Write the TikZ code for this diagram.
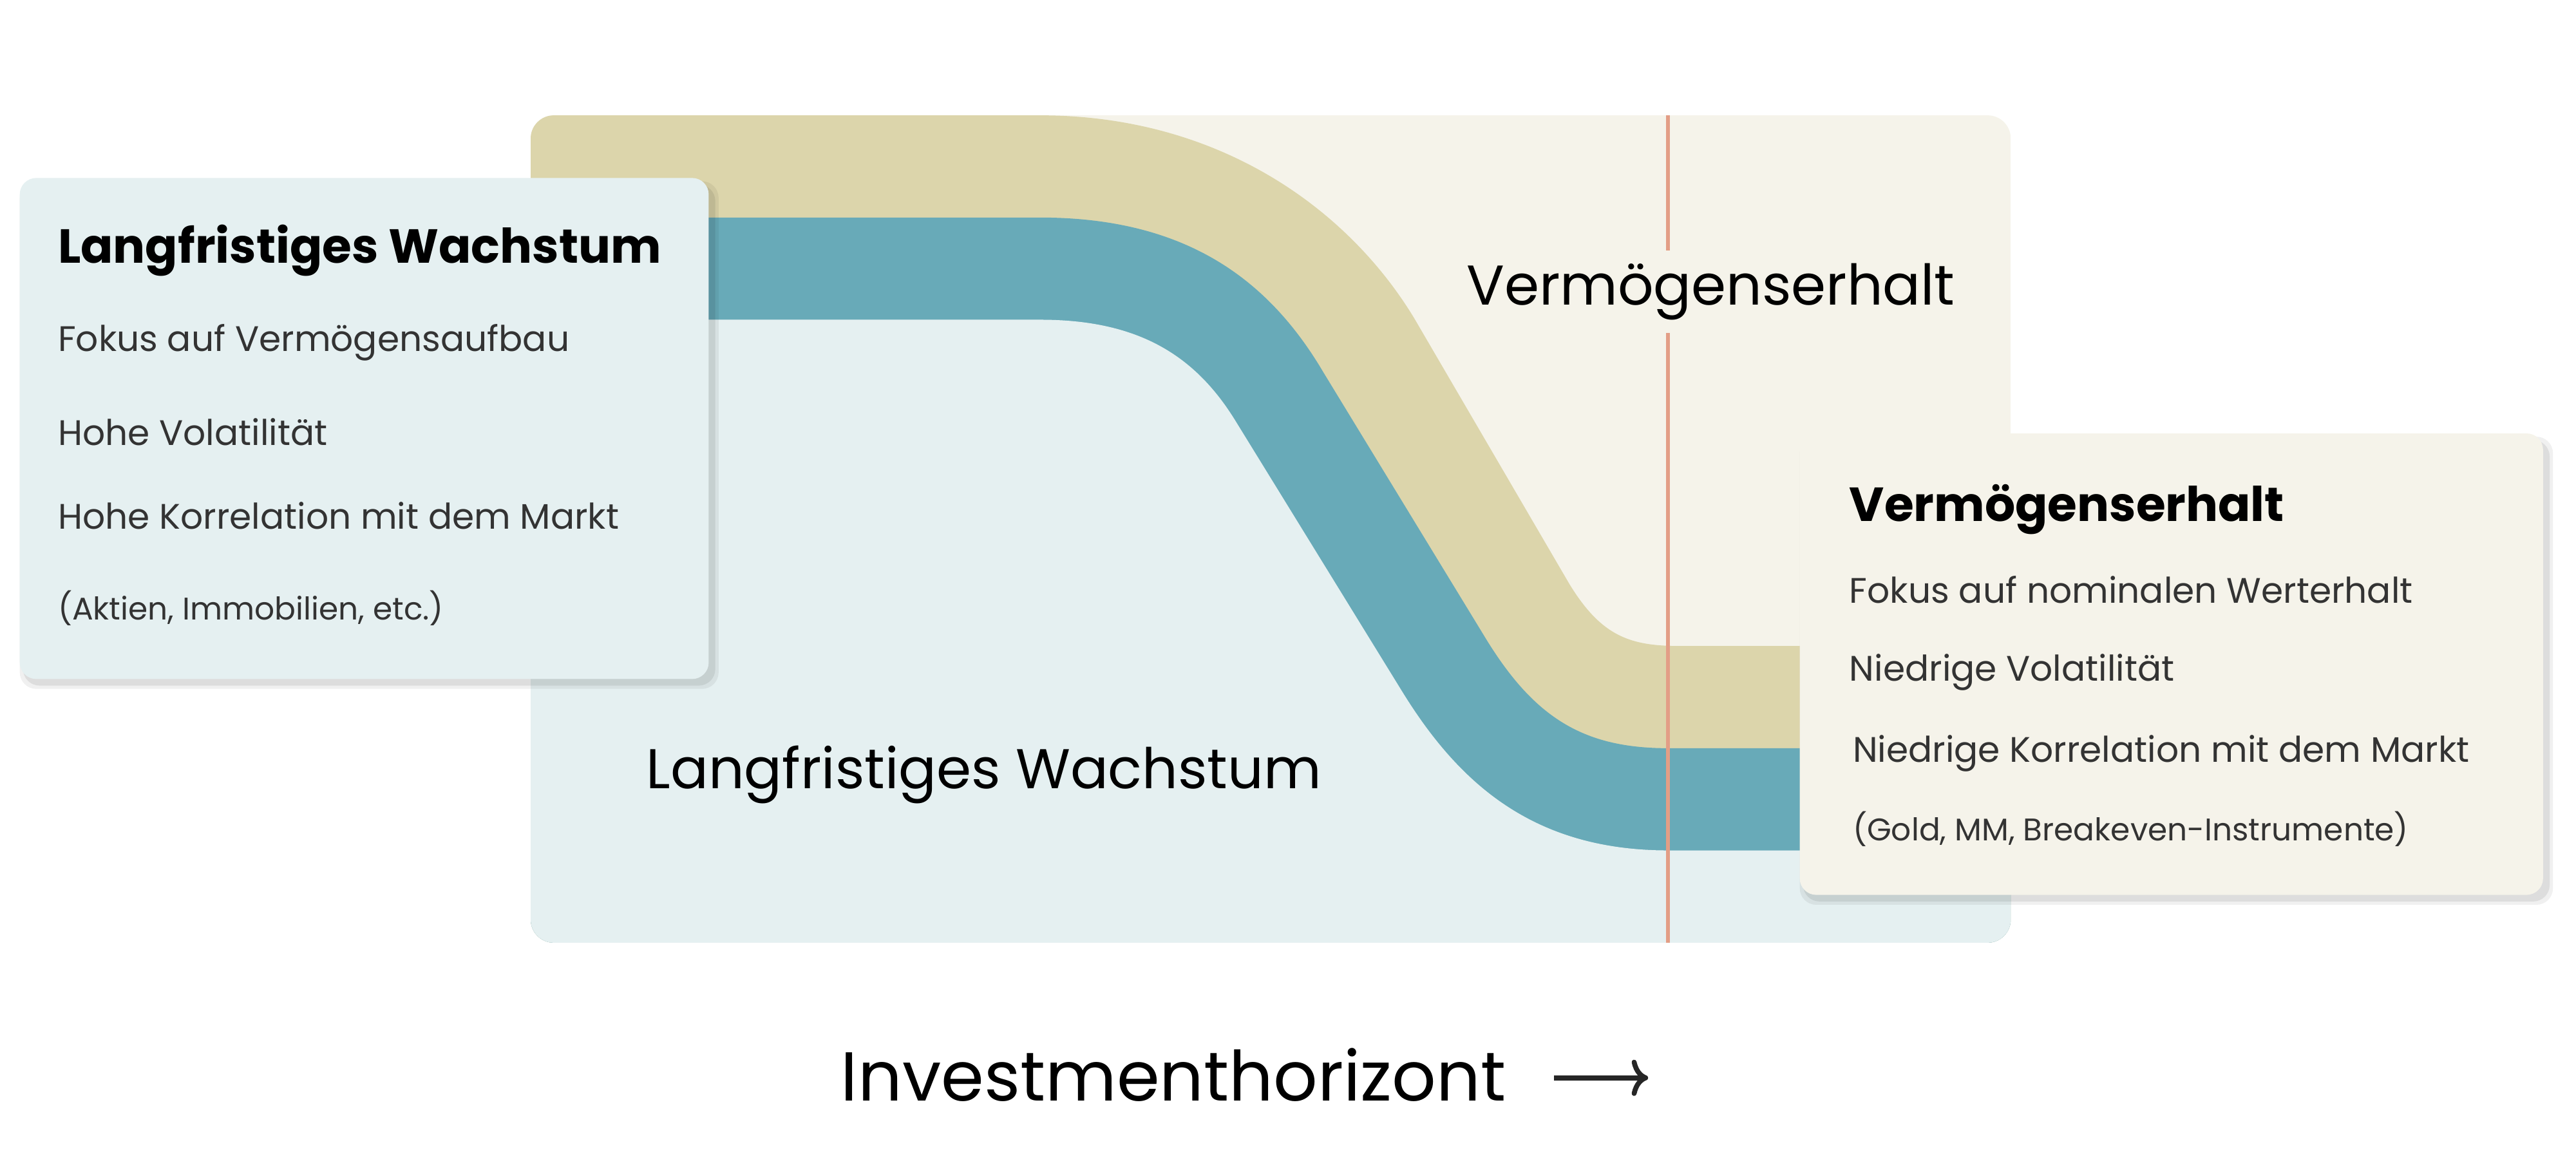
\documentclass[tikz,border=0pt]{standalone}
\usepackage{fontspec}
\setmainfont{Poppins}
\usetikzlibrary{arrows.meta}
\definecolor{cream}{HTML}{F5F3EA}
\definecolor{khaki}{HTML}{DCD5AB}
\definecolor{tealc}{HTML}{68AAB8}
\definecolor{lblue}{HTML}{E5F0F1}
\definecolor{orangel}{HTML}{E39E86}
\definecolor{txt}{HTML}{333333}
\tikzset{
  ttl/.style={anchor=west,inner sep=0pt,font=\fontsize{29}{34}\selectfont\bfseries,text=black},
  bodyt/.style={anchor=west,inner sep=0pt,font=\fontsize{21.5}{26}\selectfont,text=txt},
  smallt/.style={anchor=west,inner sep=0pt,font=\fontsize{19}{23}\selectfont,text=txt},
  bigt/.style={inner sep=0pt,font=\fontsize{34}{40}\selectfont,text=black},
  card/.style={rounded corners=10pt},
}
\begin{document}
\begin{tikzpicture}[x=1pt,y=-1pt]
\useasboundingbox[fill=white] (0,0) rectangle (1563,700);
\begin{scope}
\clip[rounded corners=14pt] (322,70) rectangle (1220,572);
\fill[cream] (322,70) rectangle (1220,572);
\fill[khaki] (322,70) -- (631,70) .. controls (740,70) and (818,127) .. (858,193) -- (952,354) .. controls (972,387) and (990,392) .. (1020,392) -- (1230,392) -- (1230,580) -- (322,580) -- cycle;
\fill[tealc] (322,132) -- (631,132) .. controls (720,132) and (770,170) .. (803,226) -- (900,385) .. controls (930,435) and (960,454) .. (1012,454) -- (1230,454) -- (1230,580) -- (322,580) -- cycle;
\fill[lblue] (322,194) -- (631,194) .. controls (690,194) and (725,215) .. (750,256) -- (851,420) .. controls (885,475) and (930,516) .. (1012,516) -- (1230,516) -- (1230,580) -- (322,580) -- cycle;
\end{scope}
\coordinate (lt) at (1012,70);
\coordinate (lb) at (1012,572);
\draw[orangel,line width=2.2pt] (lt) -- (lb);
\node[bigt,fill=cream,inner ysep=8pt,inner xsep=0pt] (verm) at (1038,177) {Vermögenserhalt};
\node[bigt] (lw) at (597,470) {Langfristiges Wachstum};
% left card
\fill[black,opacity=0.08,card] (14,112) rectangle (434,416);
\fill[black,opacity=0.06,card] (12,110) rectangle (436,418);
\fill[lblue,card] (12,108) rectangle (430,412);
\node[ttl] (l1) at (35,152) {Langfristiges Wachstum};
\node[bodyt] (l2) at (35,208) {Fokus auf Vermögensaufbau};
\node[bodyt] (l3) at (35,262) {Hohe Volatilität};
\node[bodyt] (l4) at (35,313) {Hohe Korrelation mit dem Markt};
\node[smallt] (l5) at (35,369) {(Aktien, Immobilien, etc.)};
% right card
\fill[black,opacity=0.08,card] (1094,267) rectangle (1547,547);
\fill[black,opacity=0.06,card] (1092,265) rectangle (1549,549);
\fill[cream,card] (1092,263) rectangle (1543,543);
\node[ttl] (r1) at (1122,309) {Vermögenserhalt};
\node[bodyt] (r2) at (1122,358) {Fokus auf nominalen Werterhalt};
\node[bodyt] (r3) at (1122,408) {Niedrige Volatilität};
\node[bodyt] (r4) at (1124,457) {Niedrige Korrelation mit dem Markt};
\node[smallt] (r5) at (1124,503) {(Gold, MM, Breakeven-Instrumente)};
% axis
\node[inner sep=0pt,font=\fontsize{42}{48}\selectfont,text=black] (ih) at (712,652) {Investmenthorizont};
\coordinate (a1) at (943,654);
\coordinate (a2) at (1000,654);
\draw[line width=3pt,-{To[length=10pt,width=22pt]},color=black!85] (a1) -- (a2);
\end{tikzpicture}
\end{document}
